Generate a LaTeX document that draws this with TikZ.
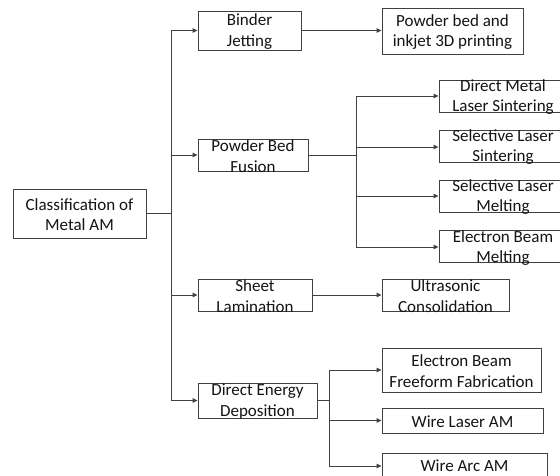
\documentclass[tikz,border=0pt]{standalone}
\usepackage{fontspec}
\setmainfont{Carlito}
\usetikzlibrary{arrows.meta}
\definecolor{ln}{RGB}{64,64,64}
\definecolor{tx}{RGB}{20,20,20}
\begin{document}
\begin{tikzpicture}[x=1pt,y=-1pt,
  box/.style={draw=ln, line width=0.9pt, inner sep=0pt, minimum width=#1},
  txt/.style={align=center, inner sep=0pt, text=tx, yshift=-1pt, font=\fontsize{17}{20.5}\selectfont},
  conn/.style={draw=ln, line width=0.9pt},
  arr/.style={conn, -{Triangle[length=5pt,width=4.5pt]}}]
\useasboundingbox[fill=white] (0,0) rectangle (560,476);
% boxes
\node[box=133, minimum height=49] (cls) at (79.5,213.5) {};
\node[txt] (clsT) at (cls) {Classification of\\Metal AM};
\node[box=103, minimum height=39] (bj) at (249.5,30.5) {};
\node[txt] (bjT) at (bj) {Binder\\Jetting};
\node[box=110, minimum height=32] (pbf) at (253,155) {};
\node[txt] (pbfT) at (pbf) {Powder Bed\\Fusion};
\node[box=114, minimum height=32] (sl) at (255,295) {};
\node[txt] (slT) at (sl) {Sheet\\Lamination};
\node[box=119, minimum height=35] (ded) at (257.5,400.5) {};
\node[txt] (dedT) at (ded) {Direct Energy\\Deposition};
\node[box=141, minimum height=46] (pbi) at (452.5,31) {};
\node[txt] (pbiT) at (pbi) {Powder bed and\\inkjet 3D printing};
\node[box=128, minimum height=32] (dmls) at (503,96) {};
\node[txt] (dmlsT) at (dmls) {Direct Metal\\Laser Sintering};
\node[box=128, minimum height=32] (sls) at (503,146) {};
\node[txt] (slsT) at (sls) {Selective Laser\\Sintering};
\node[box=128, minimum height=32] (slm) at (503,196) {};
\node[txt] (slmT) at (slm) {Selective Laser\\Melting};
\node[box=128, minimum height=32] (ebm) at (503,246) {};
\node[txt] (ebmT) at ([yshift=-1]ebm.center) {Electron Beam\\Melting};
\node[box=127, minimum height=32] (uc) at (445.5,295) {};
\node[txt] (ucT) at (uc) {Ultrasonic\\Consolidation};
\node[box=159, minimum height=44] (ebff) at (461.5,370) {};
\node[txt] (ebffT) at (ebff) {Electron Beam\\Freeform Fabrication};
\node[box=161, minimum height=25] (wla) at (462.5,420.5) {};
\node[txt] (wlaT) at (wla) {Wire Laser AM};
\node[box=165, minimum height=24] (waa) at (464.5,465) {};
\node[txt] (waaT) at (waa) {Wire Arc AM};
% connectors
\coordinate (j1) at (171,213.5);
\draw[conn] (cls.east) -- (j1);
\draw[arr] (j1) |- (bj.west);
\draw[arr] (j1) |- (pbf.west);
\draw[arr] (j1) |- (sl.west);
\draw[arr] (j1) |- (ded.west);
\draw[arr] (bj.east) -- (bj.east -| pbi.west);
\draw[arr] (sl.east) -- (uc.west);
\coordinate (j2) at (356,155);
\draw[conn] (pbf.east) -- (j2);
\draw[arr] (j2) |- (dmls.west);
\draw[arr] (j2) |- ([yshift=-1]sls.west);
\draw[arr] (j2) |- (slm.west);
\draw[arr] (j2) |- ([yshift=-1]ebm.west);
\coordinate (j3) at (329,400.5);
\draw[conn] (ded.east) -- (j3);
\draw[arr] (j3) |- (ebff.west);
\draw[arr] (j3) |- (wla.west);
\draw[arr] (j3) |- ([yshift=-1]waa.west);
\end{tikzpicture}
\end{document}
